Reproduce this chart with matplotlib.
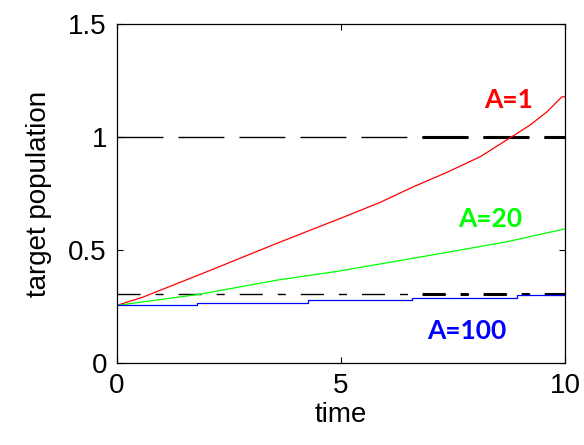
import matplotlib
matplotlib.use("Agg")
import matplotlib.pyplot as plt

plt.rcParams['lines.scale_dashes'] = False

# Data
t_red = [0, 0.6, 2.08, 3.57, 4.98, 5.87, 6.61, 7.36, 8.10, 8.84, 9.21, 9.59, 9.92, 10]
v_red = [0.255, 0.293, 0.41, 0.53, 0.64, 0.711, 0.78, 0.844, 0.913, 1.006, 1.053, 1.112, 1.178, 1.178]

t_green = [0, 1.86, 3.57, 4.98, 7.22, 8.7, 9.97, 10]
v_green = [0.255, 0.305, 0.367, 0.408, 0.485, 0.537, 0.593, 0.595]

t_blue = [0, 1.79, 4.27, 6.58, 8.93, 10]
v_blue = [0.255, 0.265, 0.279, 0.289, 0.301, 0.301]

thresh_high = 1.0
thresh_low = 0.307
t_thick = 6.8

labels = ["A=1", "A=20", "A=100"]
label_pos = [(8.72, 1.164), (8.32, 0.637), (7.79, 0.142)]
colors = ["#ff0000", "#00ff00", "#0000ff"]

fig = plt.figure(figsize=(5.84, 4.45), dpi=100)
ax = fig.add_axes([0.1998, 0.184, 0.7685, 0.762])

dash_long = (0, (33.1, 10.8))
dash_dot = (0, (16.6, 10.8, 5.8, 10.8))

ax.plot([0, 10], [thresh_high, thresh_high], color='black', lw=1.0, linestyle=dash_long)
ax.plot([t_thick, 10], [thresh_high, thresh_high], color='black', lw=2.2, linestyle=dash_long)
ax.plot([0, 10], [thresh_low, thresh_low], color='black', lw=1.0, linestyle=dash_dot)
ax.plot([t_thick, 10], [thresh_low, thresh_low], color='black', lw=2.2, linestyle=dash_dot)

ax.plot(t_red, v_red, color=colors[0], lw=0.9)
ax.plot(t_green, v_green, color=colors[1], lw=0.9)
ax.plot(t_blue, v_blue, color=colors[2], lw=0.9, drawstyle='steps-post')

for lab, (x, y), c in zip(labels, label_pos, colors):
    ax.text(x, y, lab, color=c, fontsize=19, fontweight='bold', family='Lato',
            ha='center', va='center')

ax.set_xlim(0, 10)
ax.set_ylim(0, 1.5)
ax.set_xticks([0, 5, 10])
ax.set_yticks([0, 0.5, 1, 1.5])
ax.set_xticklabels(['0', '5', '10'])
ax.set_yticklabels(['0', '0.5', '1', '1.5'])
ax.tick_params(direction='in', length=4, width=0.8, top=True, right=True,
               labelsize=20, pad=7)
for lab in ax.get_xticklabels() + ax.get_yticklabels():
    lab.set_family('Liberation Sans')
for s in ax.spines.values():
    s.set_linewidth(0.9)

ax.set_xlabel('time', fontsize=20, family='Liberation Sans', labelpad=2)
ax.set_ylabel('target population', fontsize=20, family='Liberation Sans', labelpad=12)

fig.savefig('out.png', dpi=100)
